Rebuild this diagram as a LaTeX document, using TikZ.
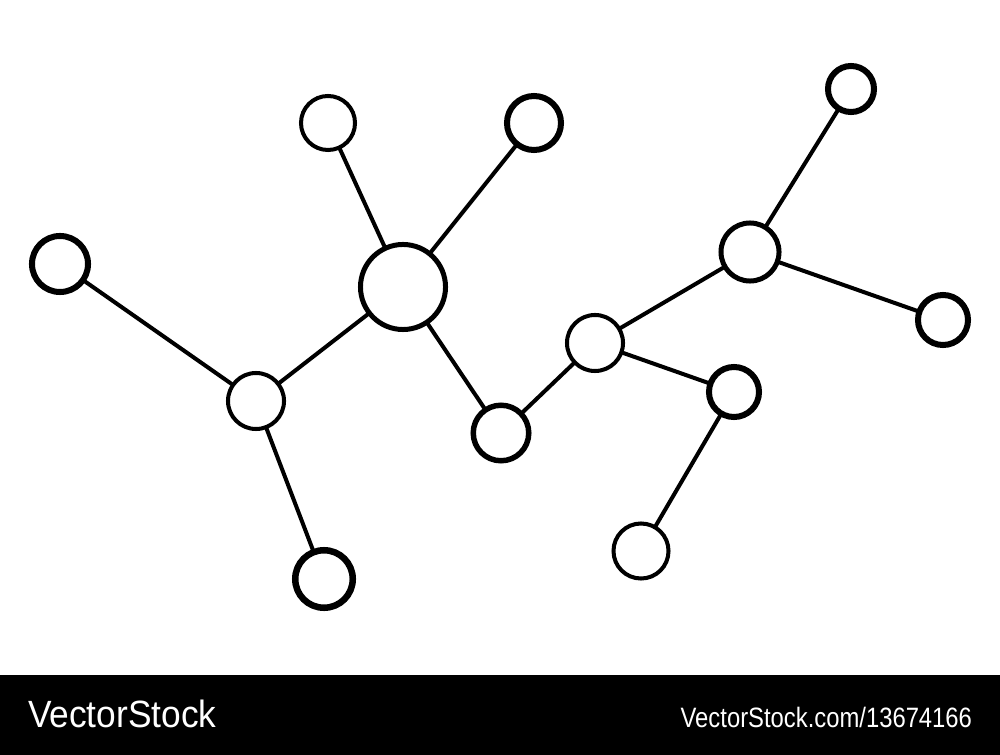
\documentclass[tikz,border=0pt]{standalone}
\usepackage{fontspec}
\newfontfamily\wmfont{Liberation Sans}
\begin{document}
\begin{tikzpicture}[x=0.01cm,y=-0.01cm,
  atom/.style={circle,draw=black,fill=white,inner sep=0pt,outer sep=0pt},
  lwthin/.style={line width=1.14pt},
  lwmid/.style={line width=1.42pt},
  lwthick/.style={line width=1.71pt},
  bond/.style={draw=black,line width=1.14pt},
  wmtext/.style={text=white,inner sep=0pt,outer sep=0pt}]
\useasboundingbox (0,0) rectangle (1000,755);
\fill[white] (0,0) rectangle (1000,675);
\fill[black] (0,675) rectangle (1000,755);

\node[atom,lwthin,minimum size=0.54cm]  (A) at (328,123) {};
\node[atom,lwthick,minimum size=0.54cm] (B) at (534,123) {};
\node[atom,lwthick,minimum size=0.56cm] (C) at (60,264) {};
\node[atom,lwmid,minimum size=0.85cm]   (D) at (403,287) {};
\node[atom,lwthin,minimum size=0.56cm]  (E) at (256,401) {};
\node[atom,line width=1.85pt,minimum size=0.575cm] (F) at (324,579) {};
\node[atom,line width=1.56pt,minimum size=0.555cm] (G) at (501,433) {};
\node[atom,lwthin,minimum size=0.56cm]  (H) at (595,343) {};
\node[atom,lwmid,minimum size=0.58cm]   (I) at (750,252) {};
\node[atom,lwthick,minimum size=0.46cm] (J) at (851,89) {};
\node[atom,lwthick,minimum size=0.50cm] (K) at (943,320) {};
\node[atom,lwthick,minimum size=0.50cm] (L) at (734,392) {};
\node[atom,lwthin,minimum size=0.55cm]  (M) at (641,551) {};

\path[bond] (A) -- (D);
\path[bond] (B) -- (D);
\path[bond] (C) -- (E);
\path[bond] (D) -- (E);
\path[bond] (D) -- (G);
\path[bond] (E) -- (F);
\path[bond] (G) -- (H);
\path[bond] (H) -- (I);
\path[bond] (I) -- (J);
\path[bond] (I) -- (K);
\path[bond] (H) -- (L);
\path[bond] (L) -- (M);

\node[wmtext,anchor=base west] (wmleft) at (28,727)
  {\wmfont\fontsize{10.8pt}{12pt}\selectfont\scalebox{0.93}[1]{VectorStock}};
\node[wmtext,anchor=base east] (wmright) at (972,727)
  {\wmfont\fontsize{7.97pt}{9pt}\selectfont\scalebox{0.85}[1]{VectorStock.com/13674166}};
\end{tikzpicture}
\end{document}
